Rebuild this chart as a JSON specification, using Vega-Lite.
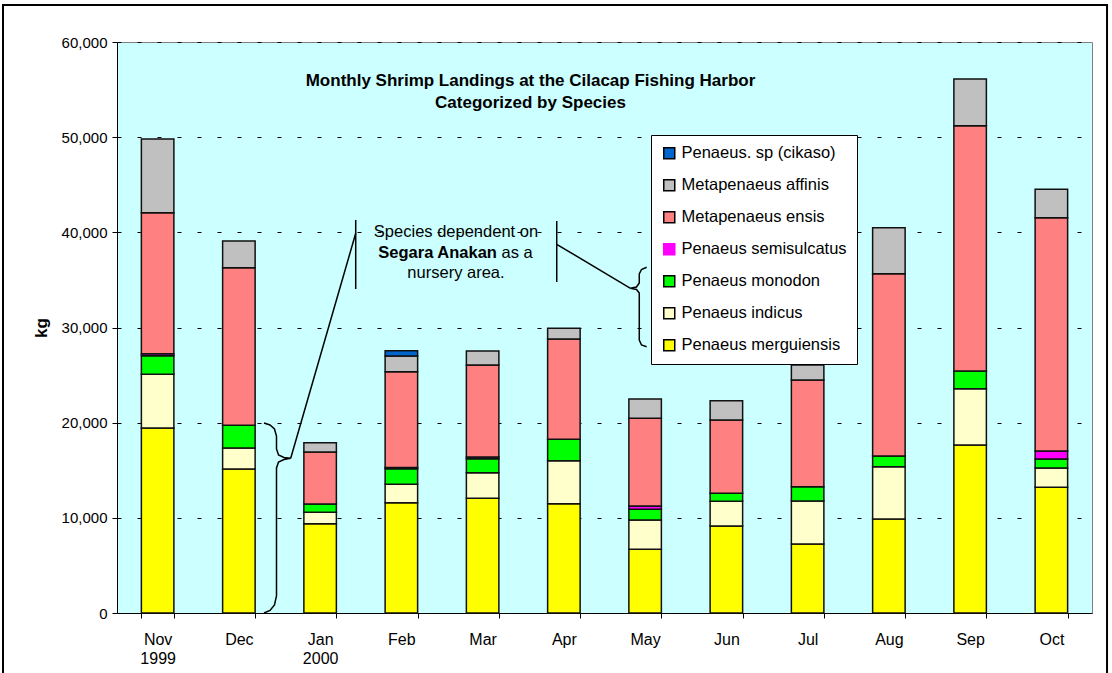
{
  "$schema": "https://vega.github.io/schema/vega-lite/v6.json",
  "width": 975,
  "height": 571,
  "autosize": "none",
  "padding": {"left": 117, "top": 42, "right": 20, "bottom": 60},
  "background": "white",
  "config": {
    "font": "Liberation Sans",
    "view": {"fill": "#CCFFFF", "stroke": "#808080", "strokeWidth": 1},
    "axisY": {
      "labelFontSize": 15,
      "labelColor": "black",
      "labelPadding": 5,
      "tickColor": "black",
      "tickSize": 5,
      "domainColor": "black",
      "gridColor": "black",
      "gridDash": [4, 16],
      "titleFontSize": 17,
      "titleFontWeight": "bold",
      "titleColor": "black",
      "titlePadding": 11
    }
  },
  "title": {
    "text": ["Monthly Shrimp Landings at the Cilacap Fishing Harbor", "Categorized by Species"],
    "fontSize": 17,
    "fontWeight": "bold",
    "color": "black",
    "anchor": "middle",
    "frame": "group",
    "lineHeight": 22,
    "dx": -74,
    "dy": 112
  },
  "datasets": {
    "shrimp": [
      {"m": "Nov 1999", "s": "Penaeus merguiensis", "o": 1, "kg": 19440},
      {"m": "Nov 1999", "s": "Penaeus indicus", "o": 2, "kg": 5660},
      {"m": "Nov 1999", "s": "Penaeus monodon", "o": 3, "kg": 1940},
      {"m": "Nov 1999", "s": "Penaeus semisulcatus", "o": 4, "kg": 200},
      {"m": "Nov 1999", "s": "Metapenaeus ensis", "o": 5, "kg": 14830},
      {"m": "Nov 1999", "s": "Metapenaeus affinis", "o": 6, "kg": 7750},
      {"m": "Dec", "s": "Penaeus merguiensis", "o": 1, "kg": 15130},
      {"m": "Dec", "s": "Penaeus indicus", "o": 2, "kg": 2210},
      {"m": "Dec", "s": "Penaeus monodon", "o": 3, "kg": 2380},
      {"m": "Dec", "s": "Metapenaeus ensis", "o": 5, "kg": 16570},
      {"m": "Dec", "s": "Metapenaeus affinis", "o": 6, "kg": 2800},
      {"m": "Jan 2000", "s": "Penaeus merguiensis", "o": 1, "kg": 9390},
      {"m": "Jan 2000", "s": "Penaeus indicus", "o": 2, "kg": 1190},
      {"m": "Jan 2000", "s": "Penaeus monodon", "o": 3, "kg": 870},
      {"m": "Jan 2000", "s": "Metapenaeus ensis", "o": 5, "kg": 5470},
      {"m": "Jan 2000", "s": "Metapenaeus affinis", "o": 6, "kg": 980},
      {"m": "Feb", "s": "Penaeus merguiensis", "o": 1, "kg": 11590},
      {"m": "Feb", "s": "Penaeus indicus", "o": 2, "kg": 1930},
      {"m": "Feb", "s": "Penaeus monodon", "o": 3, "kg": 1650},
      {"m": "Feb", "s": "Penaeus semisulcatus", "o": 4, "kg": 130},
      {"m": "Feb", "s": "Metapenaeus ensis", "o": 5, "kg": 10060},
      {"m": "Feb", "s": "Metapenaeus affinis", "o": 6, "kg": 1640},
      {"m": "Feb", "s": "Penaeus. sp (cikaso)", "o": 7, "kg": 560},
      {"m": "Mar", "s": "Penaeus merguiensis", "o": 1, "kg": 12050},
      {"m": "Mar", "s": "Penaeus indicus", "o": 2, "kg": 2690},
      {"m": "Mar", "s": "Penaeus monodon", "o": 3, "kg": 1470},
      {"m": "Mar", "s": "Penaeus semisulcatus", "o": 4, "kg": 180},
      {"m": "Mar", "s": "Metapenaeus ensis", "o": 5, "kg": 9670},
      {"m": "Mar", "s": "Metapenaeus affinis", "o": 6, "kg": 1470},
      {"m": "Apr", "s": "Penaeus merguiensis", "o": 1, "kg": 11490},
      {"m": "Apr", "s": "Penaeus indicus", "o": 2, "kg": 4510},
      {"m": "Apr", "s": "Penaeus monodon", "o": 3, "kg": 2250},
      {"m": "Apr", "s": "Metapenaeus ensis", "o": 5, "kg": 10540},
      {"m": "Apr", "s": "Metapenaeus affinis", "o": 6, "kg": 1120},
      {"m": "May", "s": "Penaeus merguiensis", "o": 1, "kg": 6690},
      {"m": "May", "s": "Penaeus indicus", "o": 2, "kg": 3080},
      {"m": "May", "s": "Penaeus monodon", "o": 3, "kg": 1130},
      {"m": "May", "s": "Penaeus semisulcatus", "o": 4, "kg": 340},
      {"m": "May", "s": "Metapenaeus ensis", "o": 5, "kg": 9220},
      {"m": "May", "s": "Metapenaeus affinis", "o": 6, "kg": 2030},
      {"m": "Jun", "s": "Penaeus merguiensis", "o": 1, "kg": 9140},
      {"m": "Jun", "s": "Penaeus indicus", "o": 2, "kg": 2600},
      {"m": "Jun", "s": "Penaeus monodon", "o": 3, "kg": 840},
      {"m": "Jun", "s": "Metapenaeus ensis", "o": 5, "kg": 7700},
      {"m": "Jun", "s": "Metapenaeus affinis", "o": 6, "kg": 2030},
      {"m": "Jul", "s": "Penaeus merguiensis", "o": 1, "kg": 7250},
      {"m": "Jul", "s": "Penaeus indicus", "o": 2, "kg": 4520},
      {"m": "Jul", "s": "Penaeus monodon", "o": 3, "kg": 1500},
      {"m": "Jul", "s": "Metapenaeus ensis", "o": 5, "kg": 11210},
      {"m": "Jul", "s": "Metapenaeus affinis", "o": 6, "kg": 1580},
      {"m": "Aug", "s": "Penaeus merguiensis", "o": 1, "kg": 9880},
      {"m": "Aug", "s": "Penaeus indicus", "o": 2, "kg": 5490},
      {"m": "Aug", "s": "Penaeus monodon", "o": 3, "kg": 1130},
      {"m": "Aug", "s": "Metapenaeus ensis", "o": 5, "kg": 19150},
      {"m": "Aug", "s": "Metapenaeus affinis", "o": 6, "kg": 4840},
      {"m": "Sep", "s": "Penaeus merguiensis", "o": 1, "kg": 17650},
      {"m": "Sep", "s": "Penaeus indicus", "o": 2, "kg": 5920},
      {"m": "Sep", "s": "Penaeus monodon", "o": 3, "kg": 1860},
      {"m": "Sep", "s": "Metapenaeus ensis", "o": 5, "kg": 25770},
      {"m": "Sep", "s": "Metapenaeus affinis", "o": 6, "kg": 4900},
      {"m": "Oct", "s": "Penaeus merguiensis", "o": 1, "kg": 13210},
      {"m": "Oct", "s": "Penaeus indicus", "o": 2, "kg": 2030},
      {"m": "Oct", "s": "Penaeus monodon", "o": 3, "kg": 940},
      {"m": "Oct", "s": "Penaeus semisulcatus", "o": 4, "kg": 840},
      {"m": "Oct", "s": "Metapenaeus ensis", "o": 5, "kg": 24520},
      {"m": "Oct", "s": "Metapenaeus affinis", "o": 6, "kg": 2980}
    ],
    "lines": [
      {"g": "b1", "o": 1, "ax": 1.809, "ay": 19966},
      {"g": "b1", "o": 2, "ax": 1.883, "ay": 19756},
      {"g": "b1", "o": 3, "ax": 1.938, "ay": 19335},
      {"g": "b1", "o": 4, "ax": 1.963, "ay": 18600},
      {"g": "b1", "o": 5, "ax": 1.963, "ay": 17234},
      {"g": "b1", "o": 6, "ax": 1.988, "ay": 16603},
      {"g": "b1", "o": 7, "ax": 2.055, "ay": 16340},
      {"g": "b1", "o": 8, "ax": 2.138, "ay": 16256},
      {"g": "b1", "o": 9, "ax": 2.055, "ay": 16130},
      {"g": "b1", "o": 10, "ax": 1.988, "ay": 15868},
      {"g": "b1", "o": 11, "ax": 1.963, "ay": 15237},
      {"g": "b1", "o": 12, "ax": 1.963, "ay": 1786},
      {"g": "b1", "o": 13, "ax": 1.938, "ay": 841},
      {"g": "b1", "o": 14, "ax": 1.883, "ay": 263},
      {"g": "b1", "o": 15, "ax": 1.809, "ay": 0},
      {"g": "la", "o": 1, "ax": 2.138, "ay": 16256},
      {"g": "la", "o": 2, "ax": 2.938, "ay": 39899},
      {"g": "v1", "o": 1, "ax": 2.938, "ay": 41298},
      {"g": "v1", "o": 2, "ax": 2.938, "ay": 34047},
      {"g": "v2", "o": 1, "ax": 5.412, "ay": 41193},
      {"g": "v2", "o": 2, "ax": 5.412, "ay": 34782},
      {"g": "lb", "o": 1, "ax": 5.412, "ay": 38745},
      {"g": "lb", "o": 2, "ax": 6.320, "ay": 34120},
      {"g": "b2", "o": 1, "ax": 6.519, "ay": 36327},
      {"g": "b2", "o": 2, "ax": 6.455, "ay": 36096},
      {"g": "b2", "o": 3, "ax": 6.428, "ay": 35623},
      {"g": "b2", "o": 4, "ax": 6.428, "ay": 34677},
      {"g": "b2", "o": 5, "ax": 6.394, "ay": 34257},
      {"g": "b2", "o": 6, "ax": 6.320, "ay": 34120},
      {"g": "b2", "o": 7, "ax": 6.394, "ay": 33994},
      {"g": "b2", "o": 8, "ax": 6.428, "ay": 33627},
      {"g": "b2", "o": 9, "ax": 6.428, "ay": 28688},
      {"g": "b2", "o": 10, "ax": 6.455, "ay": 28162},
      {"g": "b2", "o": 11, "ax": 6.519, "ay": 27984}
    ],
    "notes": [
      {"t": "Species dependent on", "tx": 4.172, "ty": 40067, "w": "normal"},
      {"t": "Segara Anakan", "tx": 3.946, "ty": 37797, "w": "bold"},
      {"t": "as a", "tx": 4.925, "ty": 37797, "w": "normal"},
      {"t": "nursery area.", "tx": 4.172, "ty": 35695, "w": "normal"}
    ],
    "frame": [
      {"fx": -1.403, "fx2": 12.185, "fy": 63890, "fy2": -20000}
    ]
  },
  "layer": [
    {
      "data": {"name": "shrimp"},
      "mark": {"type": "bar", "stroke": "#111111", "strokeWidth": 1.5},
      "encoding": {
        "x": {
          "field": "m",
          "type": "nominal",
          "sort": ["Nov 1999", "Dec", "Jan 2000", "Feb", "Mar", "Apr", "May", "Jun", "Jul", "Aug", "Sep", "Oct"],
          "scale": {"paddingInner": 0.6, "paddingOuter": 0.3},
          "axis": {
            "title": null,
            "labelAngle": 0,
            "labelExpr": "split(datum.label, ' ')",
            "labelFontSize": 16,
            "labelLineHeight": 19,
            "labelColor": "black",
            "labelPadding": 13,
            "tickBand": "extent",
            "tickColor": "black",
            "tickSize": 5,
            "domainColor": "black",
            "grid": false
          }
        },
        "y": {
          "field": "kg",
          "type": "quantitative",
          "stack": "zero",
          "title": "kg",
          "scale": {"domain": [0, 60000], "nice": false},
          "axis": {
            "values": [0, 10000, 20000, 30000, 40000, 50000, 60000],
            "format": ",",
            "labelExpr": "format(datum.value, ',')",
            "grid": true
          }
        },
        "color": {
          "field": "s",
          "type": "nominal",
          "scale": {
            "domain": ["Penaeus. sp (cikaso)", "Metapenaeus affinis", "Metapenaeus ensis", "Penaeus semisulcatus", "Penaeus monodon", "Penaeus indicus", "Penaeus merguiensis"],
            "range": ["#0066CC", "#C0C0C0", "#FF8080", "#FF00FF", "#00FF00", "#FFFFCC", "#FFFF00"]
          },
          "legend": {
            "title": null,
            "orient": "none",
            "legendX": 534,
            "legendY": 93,
            "fillColor": "white",
            "strokeColor": "black",
            "padding": 10,
            "labelFontSize": 16.5,
            "labelColor": "black",
            "labelOffset": 4,
            "labelLimit": 400,
            "symbolType": "square",
            "symbolSize": 121,
            "symbolStrokeColor": "black",
            "symbolStrokeWidth": 1.5,
            "symbolOpacity": 1,
            "rowPadding": 14,
            "encode": {
              "symbols": {
                "update": {
                  "stroke": {"signal": "datum.value == 'Penaeus semisulcatus' ? '#FF00FF' : 'black'"}
                }
              }
            }
          }
        },
        "order": {"field": "o", "type": "quantitative", "sort": "ascending"}
      }
    },
    {
      "data": {"name": "lines"},
      "mark": {"type": "line", "color": "black", "strokeWidth": 1.5, "clip": false},
      "encoding": {
        "x": {"field": "ax", "type": "quantitative", "scale": {"domain": [0, 12], "nice": false, "zero": false}, "axis": null},
        "y": {"field": "ay", "type": "quantitative", "title": "kg", "scale": {"domain": [0, 60000], "nice": false}, "axis": {"values": [0, 10000, 20000, 30000, 40000, 50000, 60000], "format": ",", "labelExpr": "format(datum.value, ',')", "grid": true}},
        "detail": {"field": "g", "type": "nominal"},
        "order": {"field": "o", "type": "quantitative"}
      }
    },
    {
      "data": {"name": "notes"},
      "transform": [{"filter": "datum.w == 'normal'"}],
      "mark": {"type": "text", "fontSize": 16.5, "color": "black", "align": "center", "baseline": "middle"},
      "encoding": {
        "x": {"field": "tx", "type": "quantitative", "scale": {"domain": [0, 12], "nice": false, "zero": false}, "axis": null},
        "y": {"field": "ty", "type": "quantitative", "title": "kg", "scale": {"domain": [0, 60000], "nice": false}, "axis": {"values": [0, 10000, 20000, 30000, 40000, 50000, 60000], "format": ",", "labelExpr": "format(datum.value, ',')", "grid": true}},
        "text": {"field": "t", "type": "nominal"}
      }
    },
    {
      "data": {"name": "notes"},
      "transform": [{"filter": "datum.w == 'bold'"}],
      "mark": {"type": "text", "fontSize": 16.5, "fontWeight": "bold", "color": "black", "align": "center", "baseline": "middle"},
      "encoding": {
        "x": {"field": "tx", "type": "quantitative", "scale": {"domain": [0, 12], "nice": false, "zero": false}, "axis": null},
        "y": {"field": "ty", "type": "quantitative", "title": "kg", "scale": {"domain": [0, 60000], "nice": false}, "axis": {"values": [0, 10000, 20000, 30000, 40000, 50000, 60000], "format": ",", "labelExpr": "format(datum.value, ',')", "grid": true}},
        "text": {"field": "t", "type": "nominal"}
      }
    },
    {
      "data": {"name": "frame"},
      "mark": {"type": "rect", "fillOpacity": 0, "stroke": "black", "strokeWidth": 2, "clip": false},
      "encoding": {
        "x": {"field": "fx", "type": "quantitative", "scale": {"domain": [0, 12], "nice": false, "zero": false}, "axis": null},
        "x2": {"field": "fx2"},
        "y": {"field": "fy", "type": "quantitative", "title": "kg", "scale": {"domain": [0, 60000], "nice": false}, "axis": {"values": [0, 10000, 20000, 30000, 40000, 50000, 60000], "format": ",", "labelExpr": "format(datum.value, ',')", "grid": true}},
        "y2": {"field": "fy2"}
      }
    }
  ],
  "resolve": {"scale": {"x": "independent"}, "axis": {"x": "independent"}}
}
